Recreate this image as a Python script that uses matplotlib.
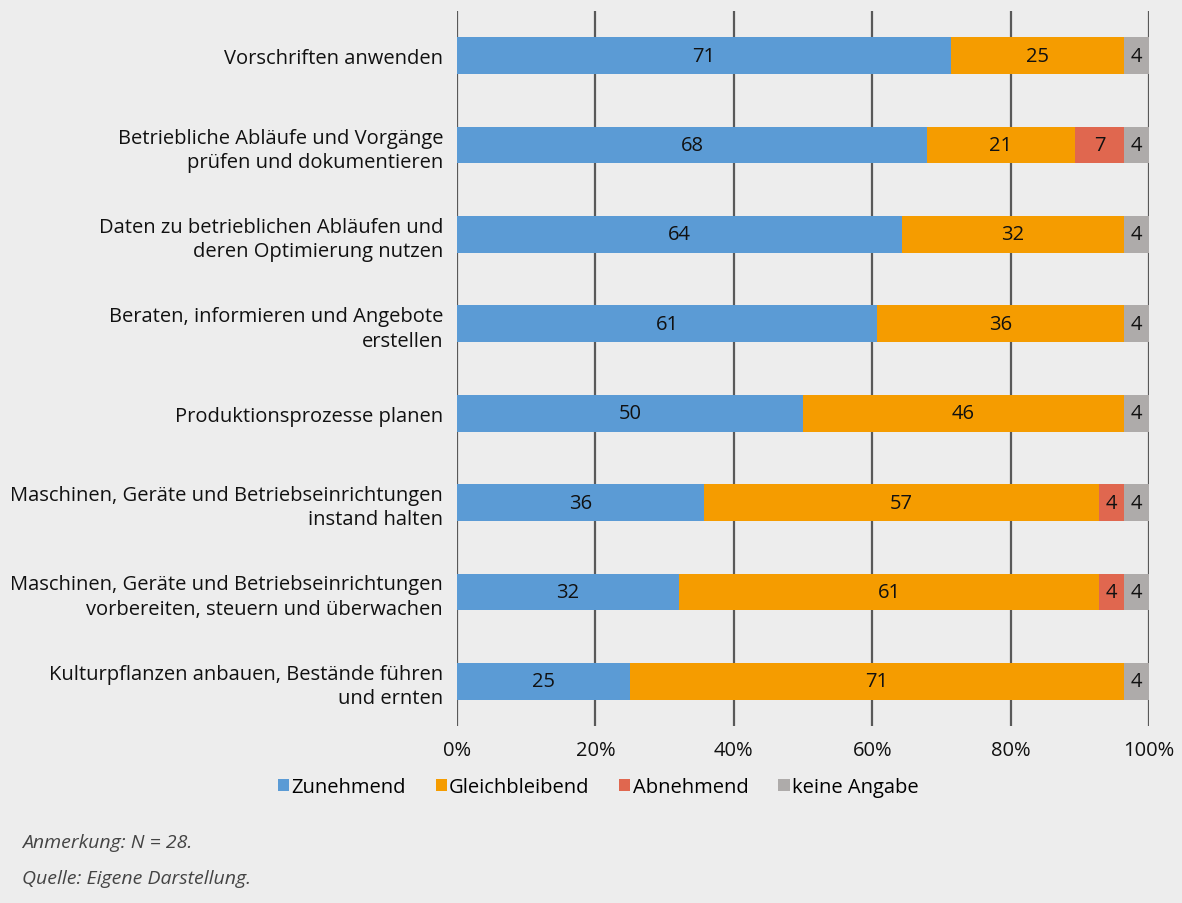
import matplotlib
matplotlib.use("Agg")
import matplotlib.pyplot as plt
from matplotlib.patches import Patch
import numpy as np

categories = [
    "Vorschriften anwenden",
    "Betriebliche Abläufe und Vorgänge\nprüfen und dokumentieren",
    "Daten zu betrieblichen Abläufen und\nderen Optimierung nutzen",
    "Beraten, informieren und Angebote\nerstellen",
    "Produktionsprozesse planen",
    "Maschinen, Geräte und Betriebseinrichtungen\ninstand halten",
    "Maschinen, Geräte und Betriebseinrichtungen\nvorbereiten, steuern und überwachen",
    "Kulturpflanzen anbauen, Bestände führen\nund ernten",
]
zunehmend = [71.4, 67.9, 64.3, 60.7, 50.0, 35.7, 32.1, 25.0]
gleichbleibend = [25.0, 21.4, 32.1, 35.7, 46.4, 57.1, 60.7, 71.4]
abnehmend = [0.0, 7.1, 0.0, 0.0, 0.0, 3.6, 3.6, 0.0]
keine_angabe = [3.6, 3.6, 3.6, 3.6, 3.6, 3.6, 3.6, 3.6]
series_names = ["Zunehmend", "Gleichbleibend", "Abnehmend", "keine Angabe"]
colors = ["#5B9BD5", "#F59C00", "#E0674F", "#AEABAA"]
xticks = [0, 20, 40, 60, 80, 100]
xticklabels = ["0%", "20%", "40%", "60%", "80%", "100%"]

plt.rcParams['font.family'] = ['Open Sans', 'DejaVu Sans']
FS = 14.5
bg = "#EDEDED"
fig = plt.figure(figsize=(11.82, 9.04), dpi=100, facecolor=bg)
ax = fig.add_axes([457/1182, 1-727/904, (1149-457)/1182, (727-12)/904])
ax.set_facecolor(bg)

y = np.arange(len(categories))
left = np.zeros(len(categories))
for vals, name, c in zip([zunehmend, gleichbleibend, abnehmend, keine_angabe], series_names, colors):
    vals = np.array(vals)
    ax.barh(y, vals, left=left, height=0.41, color=c, zorder=3, label=name)
    for yi, l, v in zip(y, left, vals):
        if v > 0:
            ax.text(l + v/2, yi, f"{v:.0f}", ha="center", va="center",
                    fontsize=FS, color="#111111", zorder=4)
    left += vals

ax.set_xlim(0, 100)
ax.set_ylim(7.5, -0.5)
ax.set_xticks(xticks)
ax.set_xticklabels(xticklabels, fontsize=FS, color="#111111")
ax.set_yticks(y)
ax.set_yticklabels(categories, fontsize=FS, color="#111111", linespacing=1.28)
ax.tick_params(axis="y", length=0, pad=10)
ax.tick_params(axis="x", length=0, pad=10)
for x in xticks:
    ax.axvline(x, color="#595959", lw=1.6, zorder=1)
for s in ax.spines.values():
    s.set_visible(False)

handles = [Patch(facecolor=c, edgecolor="none") for c in colors]
fig.legend(handles, series_names, loc="center", bbox_to_anchor=(598/1182, 1-788/904),
           ncol=4, frameon=False, fontsize=FS, handlelength=0.55, handleheight=0.55,
           handletextpad=0.1, columnspacing=1.5)

fig.text(22/1182, 1-843/904, "Anmerkung: N = 28.", fontsize=14, style="italic",
         color="#444444", va="center", ha="left")
fig.text(22/1182, 1-879/904, "Quelle: Eigene Darstellung.", fontsize=14, style="italic",
         color="#444444", va="center", ha="left")

fig.savefig("out.png", dpi=100, facecolor=bg)
